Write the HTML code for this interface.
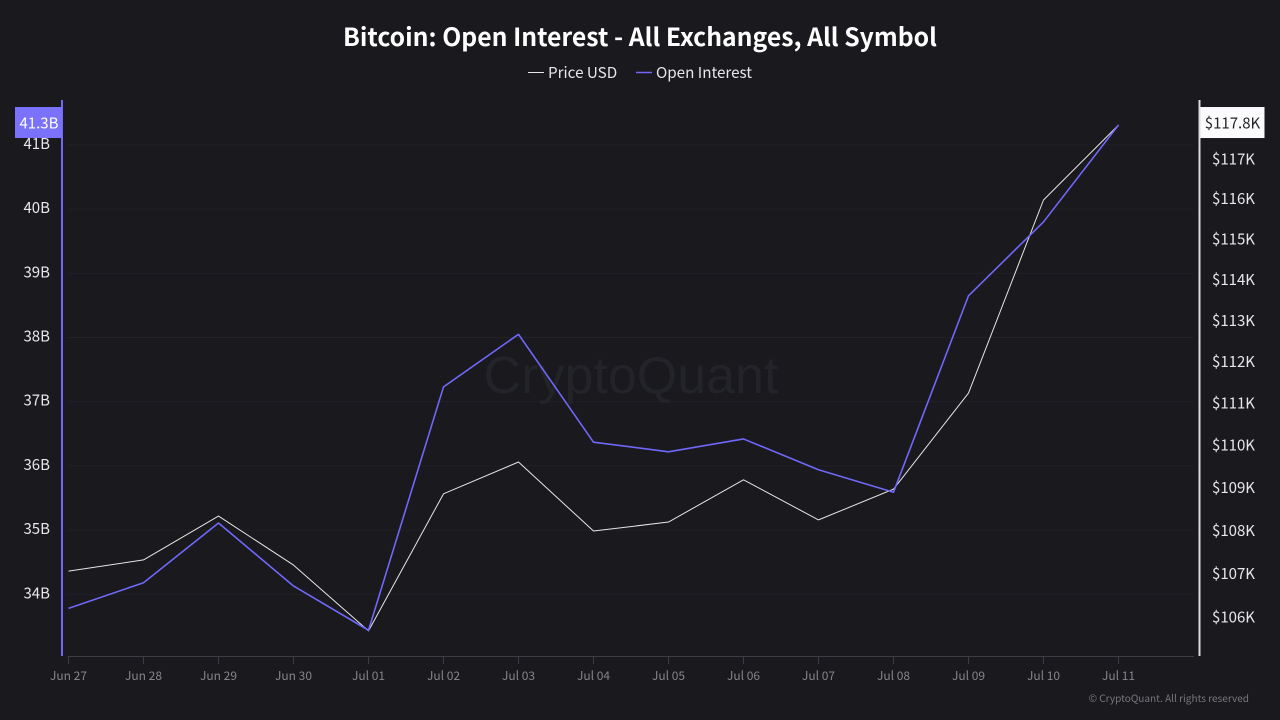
<!DOCTYPE html>
<html lang="en">
<head>
<meta charset="utf-8">
<title>Bitcoin: Open Interest</title>
<style>
html,body{margin:0;padding:0;background:#19191e;}
#chart{display:block;width:1280px;height:720px;}
text{font-family:"Noto Sans CJK JP","Liberation Sans",sans-serif;}
</style>
</head>
<body>
<svg id="chart" xmlns="http://www.w3.org/2000/svg" width="1280" height="720" viewBox="0 0 1280 720">
  <rect x="0" y="0" width="1280" height="720" fill="#19191e"/>
  <g id="grid"></g>
  <text x="631" y="393" text-anchor="middle" font-size="52" fill="#232429" style="font-family:'Liberation Sans',sans-serif">CryptoQuant</text>
  <text x="640" y="46" text-anchor="middle" font-size="24.75" font-weight="700" fill="#ffffff">Bitcoin: Open Interest - All Exchanges, All Symbol</text>
  <g>
    <g>
      <line x1="528" x2="544" y1="72.5" y2="72.5" stroke="#e6e6e6" stroke-width="1"/>
      <text x="548" y="78" font-size="15.2" fill="#e8e8ea">Price USD</text>
    </g>
    <g>
      <line x1="636" x2="652" y1="72.5" y2="72.5" stroke="#6f68f8" stroke-width="1.5"/>
      <text x="656" y="78" font-size="15.2" fill="#e8e8ea">Open Interest</text>
    </g>
  </g>
  <g id="x-axis"></g>
  <g id="left-axis"></g>
  <g id="right-axis"></g>
  <g id="series"></g>
  <g id="badges"></g>
  <text x="1249" y="702" text-anchor="end" font-size="10.05" fill="#77777c">© CryptoQuant. All rights reserved</text>
</svg>
<script>
const categories = ["Jun 27","Jun 28","Jun 29","Jun 30","Jul 01","Jul 02","Jul 03","Jul 04","Jul 05","Jul 06","Jul 07","Jul 08","Jul 09","Jul 10","Jul 11"];
const priceUsdK = [107.11,107.37,108.39,107.25,105.74,108.91,109.66,108.04,108.25,109.24,108.30,109.02,111.30,116.03,117.92];
const openInterestB = [33.78,34.18,35.11,34.13,33.44,37.23,38.05,36.37,36.22,36.42,35.94,35.59,38.65,39.80,41.31];
const leftTicks = [41,40,39,38,37,36,35,34];
const rightTicks = [117,116,115,114,113,112,111,110,109,108,107,106];
const lastOpenInterestLabel = "41.3B";
const lastPriceLabel = "$117.8K";

const NS = "http://www.w3.org/2000/svg";
function make(parent, tag, attrs, txt) {
  const el = document.createElementNS(NS, tag);
  for (const k in attrs) el.setAttribute(k, attrs[k]);
  if (txt !== undefined) el.textContent = txt;
  parent.appendChild(el);
  return el;
}
function xScale(i) { return 68.5 + i * 75; }
function yLeft(v) { return 337.5 + (38 - v) * 64.2; }
function yRight(v) { return 619.5 - 4640 * Math.log(v / 106); }
function linePoints(values, yFn) {
  return values.map(function (v, i) { return xScale(i).toFixed(2) + "," + yFn(v).toFixed(2); }).join(" ");
}

const grid = document.getElementById("grid");
leftTicks.forEach(function (t) {
  const g = make(grid, "line", {x1: 68, x2: 1194, y1: yLeft(t), y2: yLeft(t), stroke: "#212126", "stroke-width": 1});
  
  
});

const xAxis = document.getElementById("x-axis");
const baseLine = make(xAxis, "line", {x1: 68, x2: 1194, y1: 656.5, y2: 656.5, stroke: "#3d3d43", "stroke-width": 1});


categories.forEach(function (c, i) {
  const tick = make(xAxis, "line", {x1: xScale(i), x2: xScale(i), y1: 656, y2: 664, stroke: "#3d3d43", "stroke-width": 1});
  
  
  const lab = make(xAxis, "text", {x: xScale(i), y: 680, "text-anchor": "middle", "font-size": 12, fill: "#85858a"}, c);
  
  
});

const leftAxis = document.getElementById("left-axis");
const leftLine = make(leftAxis, "line", {x1: 62, x2: 62, y1: 100, y2: 656, stroke: "#6f68f8", "stroke-width": 2});


leftTicks.forEach(function (t) {
  const lab = make(leftAxis, "text", {x: 50, y: yLeft(t) + 4, "text-anchor": "end", "font-size": 15, fill: "#e8e8ea"}, t + "B");
  
  
});

const rightAxis = document.getElementById("right-axis");
const rightLine = make(rightAxis, "line", {x1: 1199.5, x2: 1199.5, y1: 100, y2: 656, stroke: "#dcdcde", "stroke-width": 2});


rightTicks.forEach(function (t) {
  const lab = make(rightAxis, "text", {x: 1212, y: yRight(t) + 3, "font-size": 15, fill: "#e8e8ea"}, "$" + t + "K");
  
  
});

const series = document.getElementById("series");
const priceLine = make(series, "polyline", {points: linePoints(priceUsdK, yRight), fill: "none", stroke: "#e6e6e6", "stroke-width": 1, "stroke-linejoin": "round"});


const oiLine = make(series, "polyline", {points: linePoints(openInterestB, yLeft), fill: "none", stroke: "#6f68f8", "stroke-width": 1.6, "stroke-linejoin": "round"});



const badges = document.getElementById("badges");
const oiY = yLeft(openInterestB[openInterestB.length - 1]);
const priceY = yRight(priceUsdK[priceUsdK.length - 1]);
const leftBadge = make(badges, "rect", {x: 15, y: oiY - 18, width: 47, height: 31, fill: "#7b72fb"});


const leftBadgeText = make(badges, "text", {x: 39, y: oiY + 3.5, "text-anchor": "middle", "font-size": 15, fill: "#ffffff"}, lastOpenInterestLabel);


const rightBadge = make(badges, "rect", {x: 1200.5, y: priceY - 18, width: 64, height: 31, fill: "#fbfbfd"});


const rightBadgeText = make(badges, "text", {x: 1232.5, y: priceY + 3.5, "text-anchor": "middle", "font-size": 15, fill: "#222226"}, lastPriceLabel);


</script>
</body>
</html>
